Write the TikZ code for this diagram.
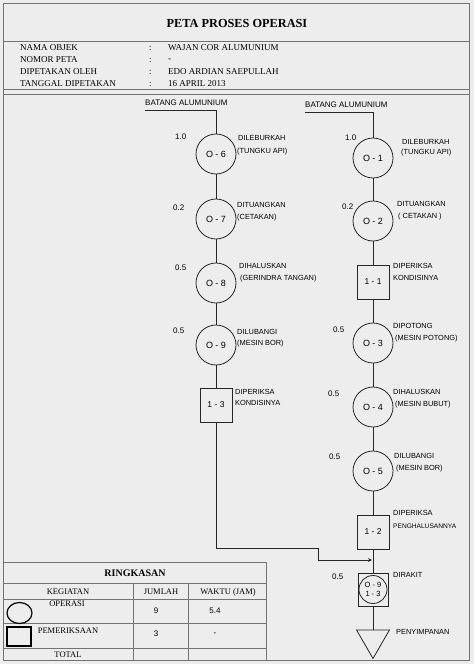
\documentclass[tikz,border=0pt]{standalone}
\usepackage{fontspec}
\setmainfont{Liberation Serif}
\setsansfont{Liberation Sans}
\usetikzlibrary{shapes.geometric}
\newcommand{\opSize}{40pt}
\newcommand{\hand}{\sffamily\fontsize{7.4}{8}\selectfont}

\begin{document}
\begin{tikzpicture}[x=1pt,y=-1pt,
	opnode/.style={circle,draw=black!85,thick,minimum size=\opSize,inner sep=0pt,font=\sffamily\fontsize{9}{10}\selectfont},
	insnode/.style={rectangle,draw=black!85,thick,minimum width=32pt,minimum height=34pt,inner sep=0pt,font=\sffamily\fontsize{8.5}{9}\selectfont},
	lbl/.style={anchor=west,inner sep=0pt,font=\hand},
	tm/.style={anchor=west,inner sep=0pt,font=\sffamily\fontsize{8}{9}\selectfont},
	info/.style={anchor=west,inner sep=0pt,font=\fontsize{9}{10}\selectfont},
	cell/.style={inner sep=0pt,font=\fontsize{8.5}{10}\selectfont},
	flow/.style={thick,draw=black!85},
	grid/.style={draw=black!55,thin}]
	\fill[black!7] (0,0) rectangle (474,664);
	\useasboundingbox (0,0) rectangle (474,664);

	% header
	\draw[grid] (3,3) rectangle (469,660);
	\node[font=\bfseries\fontsize{12.3}{14}\selectfont] (TTL) at (237,23) {PETA PROSES OPERASI};
	\draw[grid] (3,41) -- (469,41);
	\draw[grid] (3,89) -- (469,89);
	\draw[grid] (3,94) -- (469,94);
	\foreach \key/\val [count=\i] in {NAMA OBJEK/WAJAN COR ALUMUNIUM, NOMOR PETA/-, DIPETAKAN OLEH/EDO ARDIAN SAEPULLAH, TANGGAL DIPETAKAN/16 APRIL 2013} {
		\node[info] (KEY\i) at (20,36+12*\i) {\key};
		\node[info] (COL\i) at (149,36+12*\i) {:};
		\node[info] (VAL\i) at (168,36+12*\i) {\val};
	}

	% left column
	\node[anchor=south west,inner sep=0pt,font=\sffamily\fontsize{8}{9}\selectfont] (BATL) at (145,106) {BATANG ALUMUNIUM};
	\coordinate (BAL) at (145,110);
	\coordinate (BALc) at (216,110);
	\node[opnode] (OP6) at (216,154) {O - 6};
	\node[opnode] (OP7) at (216,219) {O - 7};
	\node[opnode] (OP8) at (216,283) {O - 8};
	\node[opnode] (OP9) at (216,345) {O - 9};
	\node[insnode] (INS13) at (216,405) {1 - 3};

	\node[tm] (T6) at (175,137) {1.0};
	\node[tm] (T7) at (173,208) {0.2};
	\node[tm] (T8) at (175,268) {0.5};
	\node[tm] (T9) at (173,331) {0.5};

	\node[lbl] (L6a) at (238,138) {DILEBURKAH};
	\node[lbl] (L6b) at (237,152) {(TUNGKU API)};
	\node[lbl] (L7a) at (237,205) {DITUANGKAN};
	\node[lbl] (L7b) at (237,218) {(CETAKAN)};
	\node[lbl] (L8a) at (239,266) {DIHALUSKAN};
	\node[lbl] (L8b) at (240,279) {(GERINDRA TANGAN)};
	\node[lbl] (L9a) at (237,332) {DILUBANGI};
	\node[lbl] (L9b) at (237,344) {(MESIN BOR)};
	\node[lbl] (L13a) at (235,392) {DIPERIKSA};
	\node[lbl] (L13b) at (235,403) {KONDISINYA};

	\draw[flow] (BAL) -- (BALc) -- (OP6) -- (OP7) -- (OP8) -- (OP9) -- (INS13);
	\coordinate (J2) at (318,548);
	\coordinate (MRG) at (372,560);
	\draw[flow,->,>=stealth] (INS13) |- (J2) |- (MRG);

	% right column
	\node[anchor=south west,inner sep=0pt,font=\sffamily\fontsize{8}{9}\selectfont] (BATR) at (305,108) {BATANG ALUMUNIUM};
	\coordinate (BAR) at (305,112);
	\coordinate (BARc) at (373,112);
	\node[opnode] (OP1) at (373,158) {O - 1};
	\node[opnode] (OP2) at (373,221) {O - 2};
	\node[insnode] (INS11) at (373,282) {1 - 1};
	\node[opnode] (OP3) at (373,343) {O - 3};
	\node[opnode] (OP4) at (373,407) {O - 4};
	\node[opnode] (OP5) at (373,471) {O - 5};
	\node[insnode] (INS12) at (373,532) {1 - 2};
	\node[rectangle,draw=black!85,thick,minimum width=30pt,minimum height=33pt] (ASM) at (373,589.5) {};
	\node[circle,draw=black!85,thick,minimum size=28pt,inner sep=0pt,align=center,font=\sffamily\fontsize{7.5}{9}\selectfont] (ASMc) at (373,589.5) {O - 9\\1 - 3};
	\node[regular polygon,regular polygon sides=3,shape border rotate=180,draw=black!85,thick,minimum size=38pt,inner sep=0pt] (STR) at (373,639.5) {};

	\node[tm] (T1) at (345,138) {1.0};
	\node[tm] (T2) at (342,207) {0.2};
	\node[tm] (T3) at (333,330) {0.5};
	\node[tm] (T4) at (328,394) {0.5};
	\node[tm] (T5) at (329,457) {0.5};
	\node[tm] (T95) at (332,577) {0.5};

	\node[lbl] (L1a) at (402,142) {DILEBURKAH};
	\node[lbl] (L1b) at (401,153) {(TUNGKU API)};
	\node[lbl] (L2a) at (397,204) {DITUANGKAN};
	\node[lbl] (L2b) at (398,217) {( CETAKAN )};
	\node[lbl] (L11a) at (393,266) {DIPERIKSA};
	\node[lbl] (L11b) at (393,278) {KONDISINYA};
	\node[lbl] (L3a) at (393,326) {DIPOTONG};
	\node[lbl] (L3b) at (395,339) {(MESIN POTONG)};
	\node[lbl] (L4a) at (393,392) {DIHALUSKAN};
	\node[lbl] (L4b) at (395,405) {(MESIN BUBUT)};
	\node[lbl] (L5a) at (394,456) {DILUBANGI};
	\node[lbl] (L5b) at (396,469) {(MESIN BOR)};
	\node[lbl] (L12a) at (393,513) {DIPERIKSA};
	\node[lbl,font=\sffamily\fontsize{6.6}{7}\selectfont] (L12b) at (393,526) {PENGHALUSANNYA};
	\node[lbl] (LAa) at (393,575) {DIRAKIT};
	\node[lbl] (LSa) at (396,632) {PENYIMPANAN};

	\draw[flow] (BAR) -- (BARc) -- (OP1) -- (OP2) -- (INS11) -- (OP3) -- (OP4) -- (OP5) -- (INS12) -- (ASM) -- (STR);

	% summary table
	\draw[grid,fill=black!7] (3,562) rectangle (266,660);
	\foreach \yy in {583,599,623,648} {
		\draw[grid] (3,\yy) -- (266,\yy);
	}
	\draw[grid] (133,583) -- (133,660);
	\draw[grid] (188,583) -- (188,660);
	\node[font=\bfseries\fontsize{10}{12}\selectfont] (RKS) at (135,573) {RINGKASAN};
	\node[cell] (HKG) at (68,592) {KEGIATAN};
	\node[cell] (HJM) at (161,592) {JUMLAH};
	\node[cell] (HWK) at (228,592) {WAKTU (JAM)};
	\node[ellipse,draw=black,very thick,minimum width=25pt,minimum height=21pt,inner sep=0pt] (ICOP) at (19.5,613) {};
	\node[rectangle,draw=black,very thick,minimum width=24pt,minimum height=19pt,inner sep=0pt] (ICPM) at (19,636.5) {};
	\node[cell] (ROP) at (67,604) {OPERASI};
	\node[cell] (RPM) at (68,631) {PEMERIKSAAN};
	\node[cell] (RTT) at (68,655) {TOTAL};
	\node[tm,anchor=center] (NOP) at (156,611) {9};
	\node[tm,anchor=center] (WOP) at (215,611) {5.4};
	\node[tm,anchor=center] (NPM) at (156,634) {3};
	\node[tm,anchor=center] (WPM) at (215,634) {-};
\end{tikzpicture}
\end{document}
